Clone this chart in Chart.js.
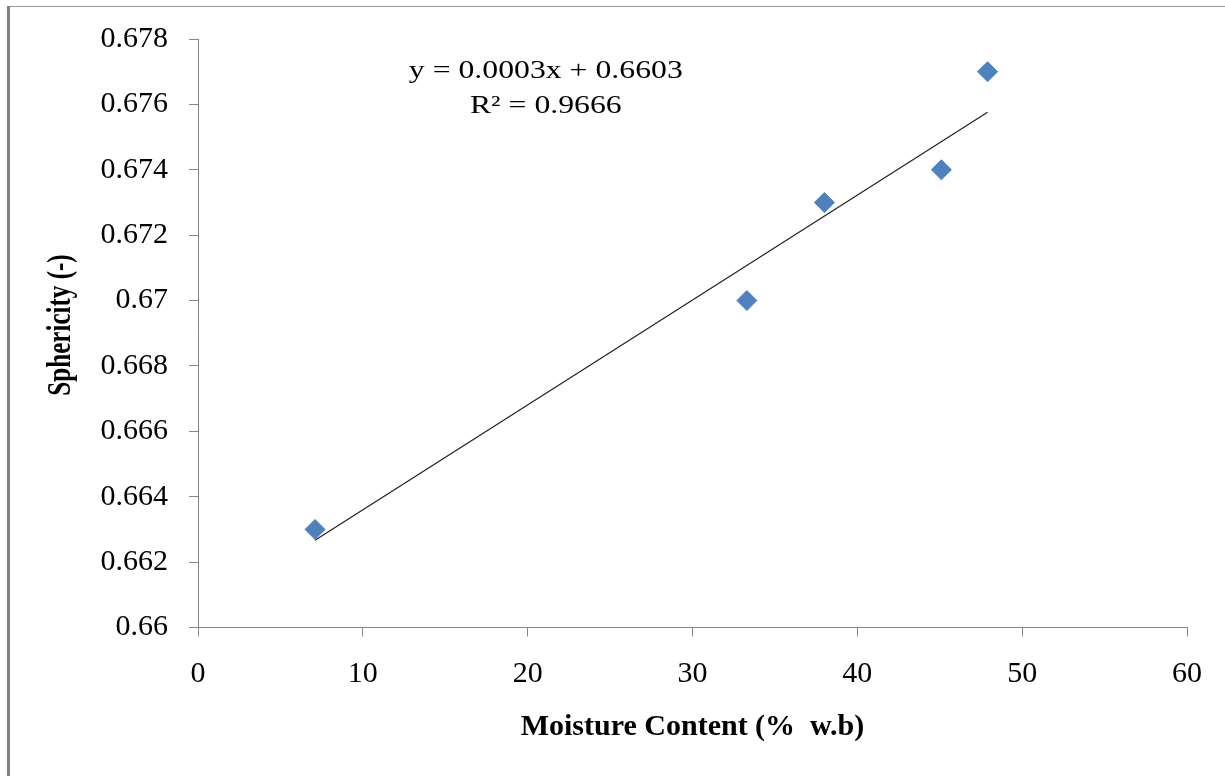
<!DOCTYPE html>
<html>
<head>
<meta charset="utf-8">
<script src="https://cdn.jsdelivr.net/npm/chart.js@4"></script>
<style>
  html, body { margin: 0; padding: 0; background: #fff; }
  #wrap { position: relative; width: 1225px; height: 776px; }
</style>
</head>
<body>
<div id="wrap"><canvas id="myChart" width="1225" height="776"></canvas></div>
<script>
// data
let moisture = [7.1, 33.3, 38.0, 45.1, 47.9];
let sphericity = [0.663, 0.670, 0.673, 0.674, 0.677];
// trend line ends (as drawn in the reference)
let trendX = [7.1, 47.9];
let trendY = [0.66267, 0.67576];
let xTicks = [0, 10, 20, 30, 40, 50, 60];
let yTicks = [0.66, 0.662, 0.664, 0.666, 0.668, 0.67, 0.672, 0.674, 0.676, 0.678];
let equation = ["y = 0.0003x + 0.6603", "R\u00b2 = 0.9666"];
let yTitle = "Sphericity (-)";

let serif = "'Liberation Serif', 'Times New Roman', serif";
let axisGrey = "#868686";

// outer frame lines, y title and equation text
let extras = {
  id: "extras",
  beforeDraw(chart) {
    let c = chart.ctx;
    c.save();
    c.fillStyle = "#fff";
    c.fillRect(0, 0, chart.width, chart.height);
    c.fillStyle = "#999";
    c.fillRect(7, 6, chart.width - 7, 1);
    c.fillStyle = "#808080";
    c.fillRect(7, 6, 3, chart.height - 6);
    c.restore();
  },
  afterDraw(chart) {
    let c = chart.ctx;
    c.save();
    c.fillStyle = "#000";
    c.font = "bold 33px " + serif;
    c.textAlign = "center";
    c.textBaseline = "middle";
    c.translate(61, 325);
    c.rotate(-Math.PI / 2);
    c.scale(0.76, 1);
    c.fillText(yTitle, 0, 0);
    c.restore();
  },
  afterDatasetsDraw(chart) {
    let c = chart.ctx;
    let x = chart.scales.x.getPixelForValue(21.1);
    let y = chart.scales.y.getPixelForValue(0.6770);
    c.save();
    c.fillStyle = "#000";
    c.font = "25px " + serif;
    c.textAlign = "center";
    c.textBaseline = "middle";
    c.translate(x, y);
    c.scale(1.27, 1);
    c.fillText(equation[0], 0, 0);
    c.fillText(equation[1], 0, 35);
    c.restore();
  }
};

let canvas = document.getElementById("myChart");
let ctx = canvas.getContext("2d");
let chart = new Chart(ctx, {
  type: "scatter",
  data: {
    datasets: [
      {
        label: "Sphericity",
        data: moisture.map((m, i) => ({ x: m, y: sphericity[i] })),
        pointStyle: "rectRot",
        pointRadius: 10,
        pointHoverRadius: 10,
        backgroundColor: "#4F81BD",
        borderColor: "#4F81BD",
        borderWidth: 1,
        order: 1,
      },
      {
        label: "Trend",
        type: "line",
        data: trendX.map((m, i) => ({ x: m, y: trendY[i] })),
        borderColor: "#202020",
        borderWidth: 1.2,
        pointRadius: 0,
        fill: false,
        order: 2,
      },
    ],
  },
  options: {
    responsive: false,
    animation: false,
    devicePixelRatio: 1,
    layout: { padding: { top: 37.5, right: 38, left: 0, bottom: 0 } },
    plugins: {
      legend: { display: false },
      tooltip: { enabled: false },
    },
    scales: {
      x: {
        type: "linear",
        min: 0,
        max: 60,
        afterBuildTicks: (s) => { s.ticks = xTicks.map((v) => ({ value: v })); },
        afterFit: (s) => { s.height = 148.5; },
        grid: { drawOnChartArea: false, drawTicks: true, tickLength: 9, color: axisGrey },
        border: { display: true, color: axisGrey, width: 1 },
        ticks: { color: "#000", padding: 20, font: { family: serif, size: 30 } },
        title: {
          display: true,
          text: "Moisture Content (%  w.b)",
          color: "#000",
          font: { family: serif, size: 30, weight: "bold" },
          padding: { top: 0, bottom: 31 },
        },
      },
      y: {
        type: "linear",
        min: 0.66,
        max: 0.678,
        afterBuildTicks: (s) => { s.ticks = yTicks.map((v) => ({ value: v })); },
        afterFit: (s) => { s.width = 198; },
        grid: { drawOnChartArea: false, drawTicks: true, tickLength: 9, color: axisGrey },
        border: { display: true, color: axisGrey, width: 1 },
        ticks: {
          color: "#000",
          padding: 21,
          font: { family: serif, size: 30 },
          callback: (v) => String(Math.round(v * 1000) / 1000),
        },
        title: { display: false },
      },
    },
  },
  plugins: [extras],
});
</script>
</body>
</html>
